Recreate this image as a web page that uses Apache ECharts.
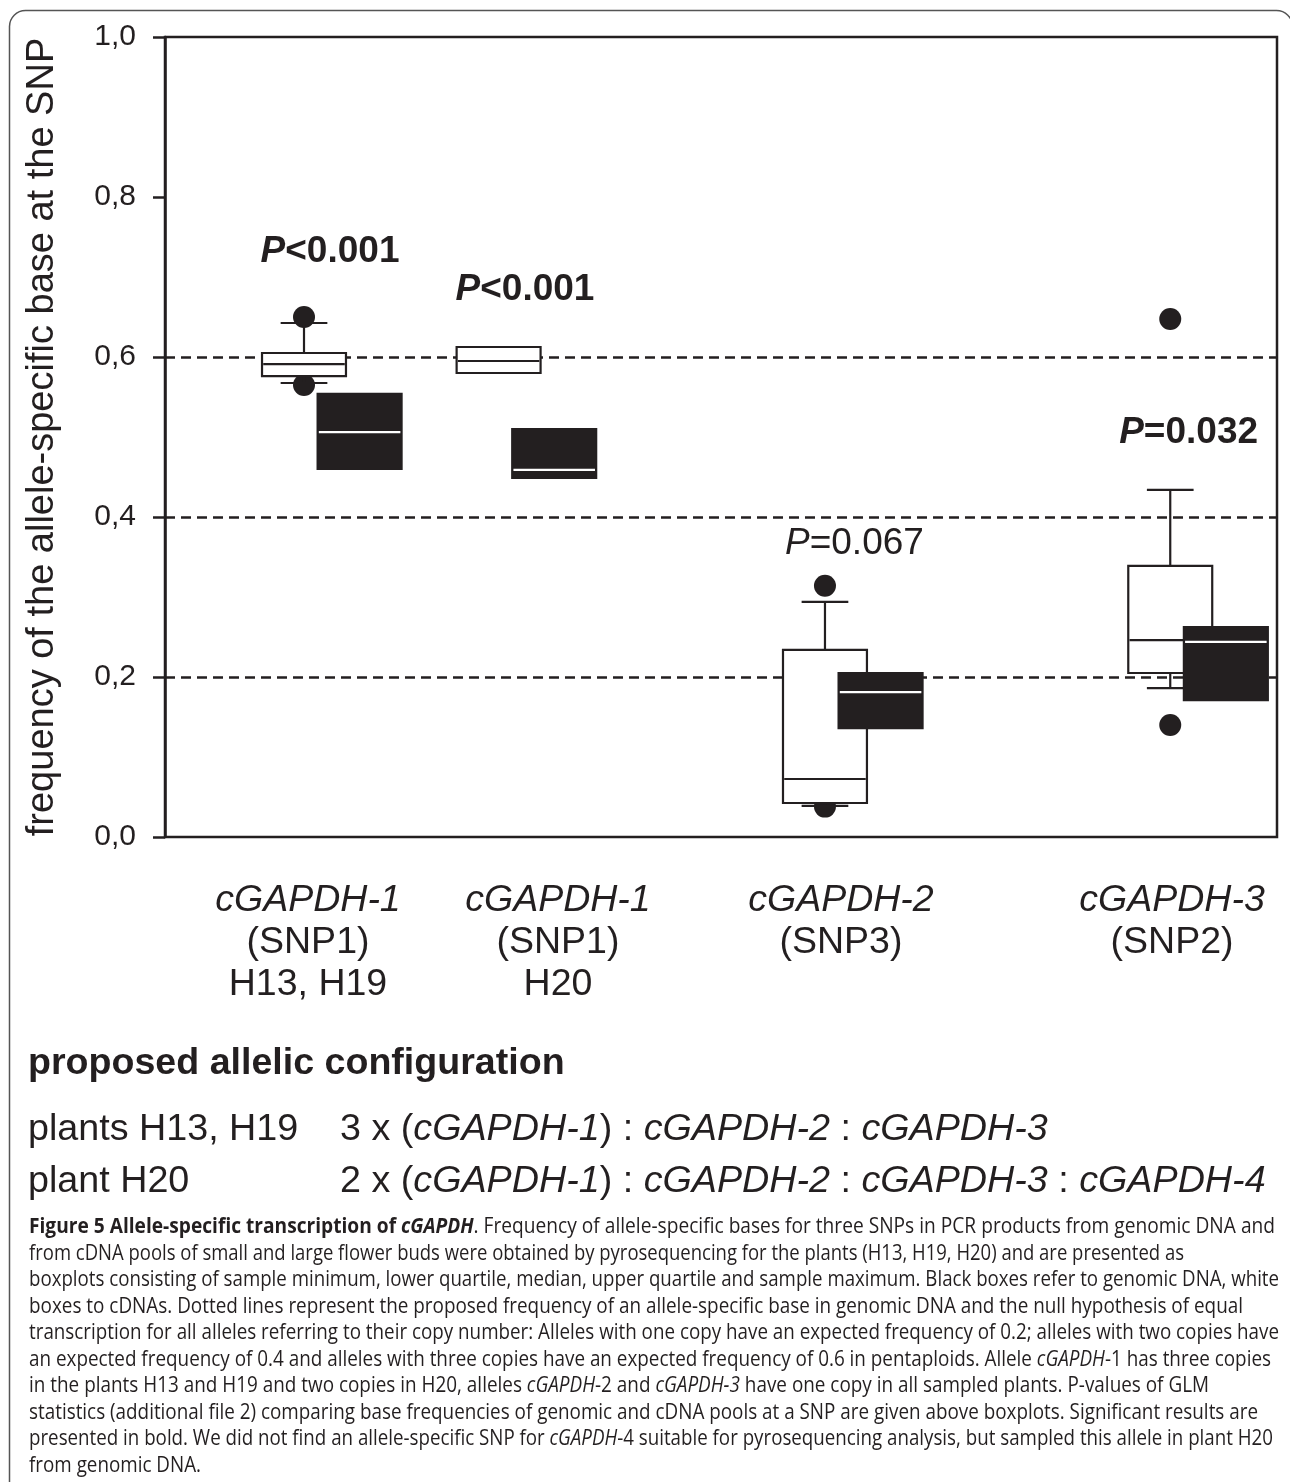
<!DOCTYPE html>
<html><head><meta charset="utf-8">
<script src="https://cdn.jsdelivr.net/npm/echarts@6/dist/echarts.min.js"></script>
<style>html,body{margin:0;padding:0;background:#fff}#chart{width:1290px;height:1482px}</style>
</head><body><div id="chart"></div>
<script>
// ---------------- data ----------------
const groupNames = ['cGAPDH-1 (SNP1) H13, H19', 'cGAPDH-1 (SNP1) H20', 'cGAPDH-2 (SNP3)', 'cGAPDH-3 (SNP2)'];
const cdnaX    = [12.5, 30.0, 59.35, 90.4];   // white boxes (cDNA)
const genomicX = [17.5, 35.0, 64.35, 95.4];   // black boxes (genomic DNA)
// [min, q1, median, q3, max]
const cdnaStats = [
  [0.5675, 0.576, 0.591, 0.605, 0.6425],
  [0.580, 0.580, 0.595, 0.6125, 0.6125],
  [0.039, 0.0425, 0.0725, 0.234, 0.294],
  [0.186, 0.205, 0.246, 0.339, 0.434]
];
const genomicStats = [
  [0.460, 0.460, 0.506, 0.554, 0.554],
  [0.449, 0.449, 0.459, 0.510, 0.510],
  [0.136, 0.136, 0.181, 0.205, 0.205],
  [0.171, 0.171, 0.244, 0.2625, 0.2625]
];
const outlierX = [12.5, 12.5, 59.35, 59.35, 90.4, 90.4];
const outlierY = [0.650, 0.565, 0.314, 0.038, 0.6475, 0.140];
const refLevels = [0.2, 0.4, 0.6];
const yTickLabels = ['0,0', '0,2', '0,4', '0,6', '0,8', '1,0'];
const pText = ['<0.001', '<0.001', '=0.067', '=0.032'];
const pBold = [true, true, false, true];
const pX = [14.84, 32.37, 62.0, 92.05];
const pY = [0.732, 0.6835, 0.367, 0.505];
const catLine1 = ['cGAPDH-1', 'cGAPDH-1', 'cGAPDH-2', 'cGAPDH-3'];
const catLine2 = ['(SNP1)', '(SNP1)', '(SNP3)', '(SNP2)'];
const catLine3 = ['H13, H19', 'H20', '', ''];
const catX = [12.86, 35.34, 60.79, 90.56];
const yAxisTitle = 'frequency of the allele-specific base at the SNP';
const configTitle = 'proposed allelic configuration';
const configRows = [
  ['plants H13, H19', '{n|3 x (}{i|cGAPDH-1}{n|) : }{i|cGAPDH-2}{n| : }{i|cGAPDH-3}'],
  ['plant H20', '{n|2 x (}{i|cGAPDH-1}{n|) : }{i|cGAPDH-2}{n| : }{i|cGAPDH-3}{n| : }{i|cGAPDH-4}']
];
const captionLines = [
  '{b|Figure 5 Allele-specific transcription of }{bi|cGAPDH}{n|. Frequency of allele-specific bases for three SNPs in PCR products from genomic DNA and}',
  '{n|from cDNA pools of small and large flower buds were obtained by pyrosequencing for the plants (H13, H19, H20) and are presented as}',
  '{n|boxplots consisting of sample minimum, lower quartile, median, upper quartile and sample maximum. Black boxes refer to genomic DNA, white}',
  '{n|boxes to cDNAs. Dotted lines represent the proposed frequency of an allele-specific base in genomic DNA and the null hypothesis of equal}',
  '{n|transcription for all alleles referring to their copy number: Alleles with one copy have an expected frequency of 0.2; alleles with two copies have}',
  '{n|an expected frequency of 0.4 and alleles with three copies have an expected frequency of 0.6 in pentaploids. Allele }{i|cGAPDH}{n|-1 has three copies}',
  '{n|in the plants H13 and H19 and two copies in H20, alleles }{i|cGAPDH}{n|-2 and }{i|cGAPDH-3}{n| have one copy in all sampled plants. P-values of GLM}',
  '{n|statistics (additional file 2) comparing base frequencies of genomic and cDNA pools at a SNP are given above boxplots. Significant results are}',
  '{n|presented in bold. We did not find an allele-specific SNP for }{i|cGAPDH}{n|-4 suitable for pyrosequencing analysis, but sampled this allele in plant H20}',
  '{n|from genomic DNA.}'
];

// ---------------- styling / layout ----------------
const INK = '#231f20';
const FONT = '"Liberation Sans", Arial, sans-serif';
const CAP_FONT = '"Open Sans", sans-serif';
const BOX_W = 7.55, CAP_W = 4.2;
const CAPTION_RIGHT = [1275, 1184, 1279, 1243, 1279, 1271, 1209, 1258, 1273, 201]; // right ends of caption lines (px)

const chart = echarts.init(document.getElementById('chart'), null, {renderer: 'canvas'});

function boxRenderer(fillColor, medianColor) {
  return function (params, api) {
    const x = api.value(0), mn = api.value(1), q1 = api.value(2), md = api.value(3), q3 = api.value(4), mx = api.value(5);
    const hw = api.size([BOX_W, 0])[0] / 2, cw = api.size([CAP_W, 0])[0] / 2;
    const c = v => api.coord([x, v]);
    const pMin = c(mn), pQ1 = c(q1), pMd = c(md), pQ3 = c(q3), pMax = c(mx);
    const cx = pMd[0];
    const ls = {stroke: INK, lineWidth: 2.2};
    const ch = [];
    if (mx > q3) {
      ch.push({type: 'line', shape: {x1: cx, y1: pMax[1], x2: cx, y2: pQ3[1]}, style: ls});
      ch.push({type: 'line', shape: {x1: cx - cw, y1: pMax[1], x2: cx + cw, y2: pMax[1]}, style: ls});
    }
    if (mn < q1) {
      ch.push({type: 'line', shape: {x1: cx, y1: pMin[1], x2: cx, y2: pQ1[1]}, style: ls});
      ch.push({type: 'line', shape: {x1: cx - cw, y1: pMin[1], x2: cx + cw, y2: pMin[1]}, style: ls});
    }
    ch.push({type: 'rect', shape: {x: cx - hw, y: pQ3[1], width: 2 * hw, height: pQ1[1] - pQ3[1]},
      style: {fill: fillColor, stroke: INK, lineWidth: 2.2}});
    ch.push({type: 'line', shape: {x1: cx - hw + 1.2, y1: pMd[1], x2: cx + hw - 1.2, y2: pMd[1]},
      style: {stroke: medianColor, lineWidth: 2.2}});
    return {type: 'group', children: ch};
  };
}

const option = {
  animation: false,
  backgroundColor: '#fff',
  grid: {left: 165, right: 13, top: 37, bottom: 645, show: true, borderColor: INK, borderWidth: 2.5, backgroundColor: 'transparent'},
  xAxis: {type: 'value', min: 0, max: 100, axisLine: {show: false}, axisTick: {show: false}, axisLabel: {show: false}, splitLine: {show: false}},
  yAxis: {
    type: 'value', min: 0, max: 1, interval: 0.2,
    axisLine: {show: true, lineStyle: {color: INK, width: 2.5}},
    axisTick: {show: true, inside: false, length: 12, lineStyle: {color: INK, width: 2.5}},
    splitLine: {show: false},
    axisLabel: {color: INK, fontFamily: FONT, fontSize: 30, margin: 29,
      formatter: (v) => yTickLabels[Math.round(v / 0.2)]},
    name: yAxisTitle, nameLocation: 'middle', nameGap: 103,
    nameTextStyle: {color: INK, fontFamily: FONT, fontSize: 38}
  },
  series: [
    {type: 'line', data: [], z: 1, silent: true,
      markLine: {z: 1, silent: true, symbol: ['none', 'none'], label: {show: false},
        lineStyle: {color: INK, width: 2.5, type: [10, 6]},
        emphasis: {disabled: true},
        data: refLevels.map(v => ({yAxis: v}))}},
    {type: 'scatter', z: 2, silent: true, symbol: 'circle', symbolSize: 22,
      itemStyle: {color: INK, opacity: 1},
      data: outlierX.map((x, i) => [x, outlierY[i]])},
    {type: 'custom', z: 3, silent: true, renderItem: boxRenderer('#fff', INK),
      encode: {x: 0, y: [1, 2, 3, 4, 5]},
      data: cdnaX.map((x, i) => [x].concat(cdnaStats[i]))},
    {type: 'custom', z: 4, silent: true, renderItem: boxRenderer(INK, '#fff'),
      encode: {x: 0, y: [1, 2, 3, 4, 5]},
      data: genomicX.map((x, i) => [x].concat(genomicStats[i]))}
  ]
};
chart.setOption(option);

// ---------------- texts ----------------
const measureCtx = document.createElement('canvas').getContext('2d');
function richWidth(str, rich) {
  let w = 0; const re = /\{(\w+)\|([^}]*)\}/g; let m;
  while ((m = re.exec(str))) {
    const s = rich[m[1]];
    measureCtx.font = `${s.fontStyle || 'normal'} ${s.fontWeight || 'normal'} ${s.fontSize}px ${s.fontFamily}`;
    w += measureCtx.measureText(m[2]).width;
  }
  return w;
}
function txt(x, y, text, extra, rich, scaleX) {
  const style = Object.assign({text: text, x: 0, y: 0, fill: INK, align: 'left', verticalAlign: 'middle',
    textAlign: 'left', textVerticalAlign: 'middle', fontFamily: FONT}, extra || {});
  if (rich) style.rich = rich;
  return {type: 'text', x: x, y: y, scaleX: scaleX || 1, silent: true, z: 10, style: style};
}

function buildGraphics() {
  const els = [];
  // outer rounded frame
  els.push({type: 'rect', silent: true, z: 0, shape: {x: 9.5, y: 10.5, width: 1283, height: 1600, r: 16},
    style: {fill: 'none', stroke: '#555', lineWidth: 1.5}});
  const toPx = (x, y) => chart.convertToPixel({gridIndex: 0}, [x, y]);

  // p-values
  const PF = 37;
  const pRich = {
    pi: {fontFamily: FONT, fontSize: PF, fontStyle: 'italic', fontWeight: 'bold', fill: INK},
    pb: {fontFamily: FONT, fontSize: PF, fontWeight: 'bold', fill: INK},
    ni: {fontFamily: FONT, fontSize: PF, fontStyle: 'italic', fill: INK},
    nn: {fontFamily: FONT, fontSize: PF, fill: INK}
  };
  pText.forEach((t, i) => {
    const p = toPx(pX[i], pY[i]);
    const s = pBold[i] ? `{pi|P}{pb|${t}}` : `{ni|P}{nn|${t}}`;
    els.push(txt(p[0], p[1], s, {align: 'center', textAlign: 'center'}, pRich));
  });

  // category labels under the axis
  const CF = 37.5;
  const rowY = [901, 943, 985];
  catX.forEach((cx, i) => {
    const px = toPx(cx, 0)[0];
    els.push(txt(px, rowY[0], catLine1[i], {align: 'center', textAlign: 'center', fontSize: CF, fontStyle: 'italic'}));
    els.push(txt(px, rowY[1], catLine2[i], {align: 'center', textAlign: 'center', fontSize: CF}));
    if (catLine3[i]) els.push(txt(px, rowY[2], catLine3[i], {align: 'center', textAlign: 'center', fontSize: CF}));
  });

  // proposed allelic configuration
  const BF = 37.7;
  els.push(txt(28, 1064, configTitle, {fontSize: 37.6, fontWeight: 'bold'}));
  const cfgRich = {
    n: {fontFamily: FONT, fontSize: BF, fill: INK},
    i: {fontFamily: FONT, fontSize: BF, fontStyle: 'italic', fill: INK}
  };
  const cfgY = [1130, 1182];
  configRows.forEach((r, i) => {
    els.push(txt(28, cfgY[i], r[0], {fontSize: BF}));
    els.push(txt(340, cfgY[i], r[1], {}, cfgRich));
  });

  // caption
  const CPF = 21.5;
  const capRich = {
    n: {fontFamily: CAP_FONT, fontSize: CPF, fill: INK},
    i: {fontFamily: CAP_FONT, fontSize: CPF, fontStyle: 'italic', fill: INK},
    b: {fontFamily: CAP_FONT, fontSize: CPF, fontWeight: 'bold', fill: INK},
    bi: {fontFamily: CAP_FONT, fontSize: CPF, fontWeight: 'bold', fontStyle: 'italic', fill: INK}
  };
  const CAP_LEFT = 29;
  captionLines.forEach((l, k) => {
    const sx = (CAPTION_RIGHT[k] - CAP_LEFT) / richWidth(l, capRich);
    els.push(txt(CAP_LEFT, 1227 + k * 26.5, l, {}, capRich, sx));
  });

  chart.setOption({graphic: {elements: els}});
}
buildGraphics();
</script>
</body></html>
